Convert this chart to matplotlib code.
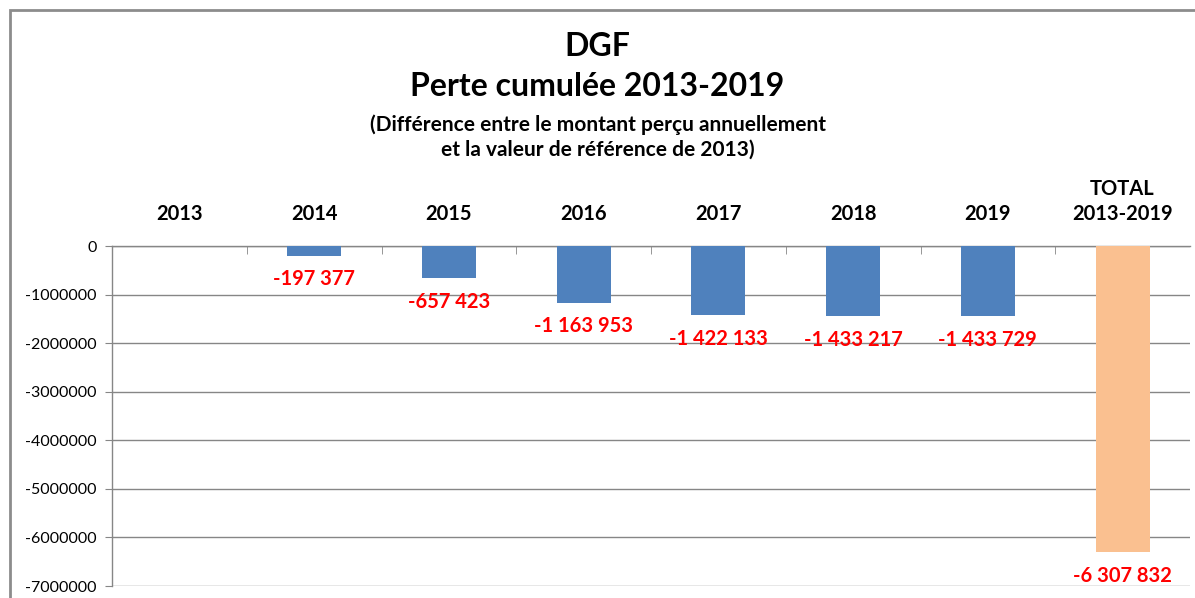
import numpy as np
import matplotlib
matplotlib.use('Agg')
import matplotlib.pyplot as plt
from matplotlib.patches import Rectangle
from matplotlib.ticker import FuncFormatter, MultipleLocator

plt.rcParams['font.family'] = ['Lato', 'DejaVu Sans']

categories = ['2013', '2014', '2015', '2016', '2017', '2018', '2019', 'TOTAL\n2013-2019']
pertes = [0, -197377, -657423, -1163953, -1422133, -1433217, -1433729, -6307832]
couleurs = ['#4F81BD'] * 7 + ['#FAC090']

def fmt_label(v):
    s = '{:,}'.format(abs(v)).replace(',', ' ')
    return '-' + s if v < 0 else s

fig = plt.figure(figsize=(11.95, 5.98), dpi=100)

# cadre gris du graphique (coupé à droite et en bas)
fig.patches.append(Rectangle((10 / 1195, -0.05), 1.2, 1 - 10 / 598 + 0.05,
                             transform=fig.transFigure, fill=False,
                             edgecolor='#8C8C8C', linewidth=2))

ax = fig.add_axes([112 / 1195, 1 - 586 / 598, (1190 - 112) / 1195, (586 - 246) / 598])

x = np.arange(len(categories))
ax.bar(x, pertes, width=0.4, color=couleurs, zorder=3)

for xi, v in zip(x, pertes):
    if v == 0:
        continue
    ax.annotate(fmt_label(v), (xi, v), xytext=(0, -10), textcoords='offset points',
                ha='center', va='top', color='#FF0000', fontsize=14.5, fontweight='bold')

ax.set_xlim(-0.5, len(categories) - 0.5)
ax.set_ylim(-7000000, 0)
ax.yaxis.set_major_locator(MultipleLocator(1000000))
ax.yaxis.set_major_formatter(FuncFormatter(lambda v, p: '{:d}'.format(int(round(v)))))
ax.grid(axis='y', color='#868686', linewidth=1, zorder=0)

ax.xaxis.tick_top()
ax.set_xticks(x)
ax.set_xticklabels(categories, fontsize=14.5, fontweight='bold', linespacing=1.3)
ax.tick_params(axis='x', which='major', length=0, pad=16)
ax.set_xticks(np.arange(0.5, len(categories) - 1, 1), minor=True)
ax.tick_params(axis='x', which='minor', top=True, direction='in', length=6,
               color='#868686')
ax.tick_params(axis='y', length=5, color='#868686', labelsize=11.5, pad=6)

for s in ['right', 'bottom']:
    ax.spines[s].set_visible(False)
for s in ['top', 'left']:
    ax.spines[s].set_color('#868686')
    ax.spines[s].set_linewidth(1)

fig.text(0.5, 1 - 46 / 598, 'DGF', ha='center', va='center', fontsize=23, fontweight='bold')
fig.text(0.5, 1 - 87 / 598, 'Perte cumulée 2013-2019', ha='center', va='center',
         fontsize=23, fontweight='bold')
fig.text(0.5, 1 - 137 / 598,
         '(Différence entre le montant perçu annuellement\net la valeur de référence de 2013)',
         ha='center', va='center', fontsize=15, fontweight='bold', linespacing=1.25)

fig.savefig('out.png', dpi=100)
